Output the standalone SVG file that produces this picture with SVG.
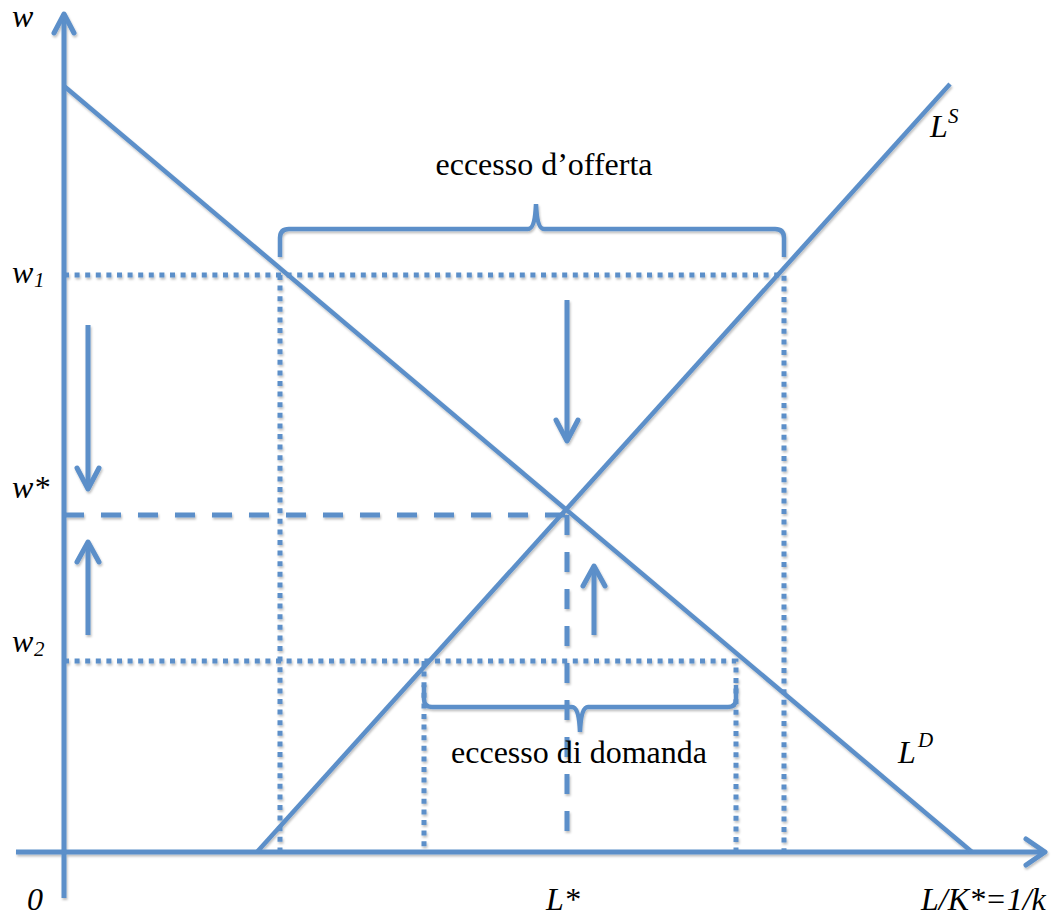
<svg xmlns="http://www.w3.org/2000/svg" width="1060" height="921" viewBox="0 0 1060 921">
<defs>
<filter id="sh" x="-5%" y="-5%" width="110%" height="110%">
<feDropShadow dx="1" dy="2" stdDeviation="1.2" flood-color="#000" flood-opacity="0.25"/>
</filter>
</defs>
<style>
.ln{fill:none;stroke:#5B8FC9;stroke-width:4.5;}
.ax{fill:none;stroke:#5B8FC9;stroke-width:5;}
.hd{fill:none;stroke:#5B8FC9;stroke-width:5;stroke-linecap:round;stroke-linejoin:round;}
.dot{fill:none;stroke:#5B8FC9;stroke-width:5;stroke-dasharray:5 5.6;}
.dash{fill:none;stroke:#5B8FC9;stroke-width:5;stroke-dasharray:20 17;}
.m{font-family:"Liberation Serif","Times New Roman",serif;font-style:italic;font-size:32px;fill:#000;}
.sub{font-size:21px;}
.t{font-family:"Liberation Serif","Times New Roman",serif;font-size:32px;fill:#000;}
</style>
<rect width="1060" height="921" fill="#fff"/>
<g id="connectors" filter="url(#sh)">
<g id="axes">
<line class="ax" x1="64" y1="898" x2="64" y2="14"/>
<polyline class="hd" points="54,33 64,14 74,33"/>
<line class="ax" x1="16" y1="852" x2="1045" y2="852"/>
<polyline class="hd" points="1026,839 1045,852 1026,865"/>
</g>
<g id="guides">
<polyline class="dot" points="64,275 784,275 784,852"/>
<line class="dot" x1="280" y1="275" x2="280" y2="852"/>
<polyline class="dot" points="64,661 736,661 736,852"/>
<line class="dot" x1="424" y1="661" x2="424" y2="852"/>
<line class="dash" x1="64" y1="515" x2="567" y2="515"/>
<line class="dash" x1="567" y1="515" x2="567" y2="836"/>
</g>
<g id="curves">
<line class="ln" x1="64" y1="86" x2="972" y2="852"/>
<line class="ln" x1="257" y1="852" x2="950" y2="84"/>
</g>
<g id="braces">
<path class="ln" d="M280,257 V238 Q280,229 289,229 H528 Q535,229 536,204 Q537,229 544,229 H775 Q784,229 784,238 V257"/>
<path class="ln" d="M424,685 V699 Q424,707 432,707 H572 Q579,707 580,732 Q581,707 588,707 H728 Q736,707 736,699 V685"/>
</g>
<g id="arrows">
<line class="ax" x1="88" y1="325" x2="88" y2="488"/>
<polyline class="hd" points="77,468 88,489 99,468"/>
<line class="ax" x1="88" y1="635" x2="88" y2="543"/>
<polyline class="hd" points="77,562 88,542 99,562"/>
<line class="ax" x1="567" y1="300" x2="567" y2="440"/>
<polyline class="hd" points="556,420 567,441 578,420"/>
<line class="ax" x1="594" y1="635" x2="594" y2="567"/>
<polyline class="hd" points="583,586 594,566 605,586"/>
</g>
</g>
<g id="labels">
<text class="m" x="12" y="27">w</text>
<text class="m" x="12" y="283">w<tspan class="sub" x="34" y="287">1</tspan></text>
<text class="m" x="12" y="498">w*</text>
<text class="m" x="12" y="652">w<tspan class="sub" x="34" y="656">2</tspan></text>
<text class="m" x="27" y="910">0</text>
<text class="m" x="546" y="910">L*</text>
<text class="m" x="921" y="910">L/K*=1/k</text>
<text class="m" x="930" y="137">L<tspan class="sub" x="948" y="123">S</tspan></text>
<text class="m" x="898" y="763">L<tspan class="sub" x="918" y="747">D</tspan></text>
<text class="t" x="544" y="175" text-anchor="middle">eccesso d’offerta</text>
<text class="t" x="579" y="763" text-anchor="middle">eccesso di domanda</text>
</g>
</svg>
